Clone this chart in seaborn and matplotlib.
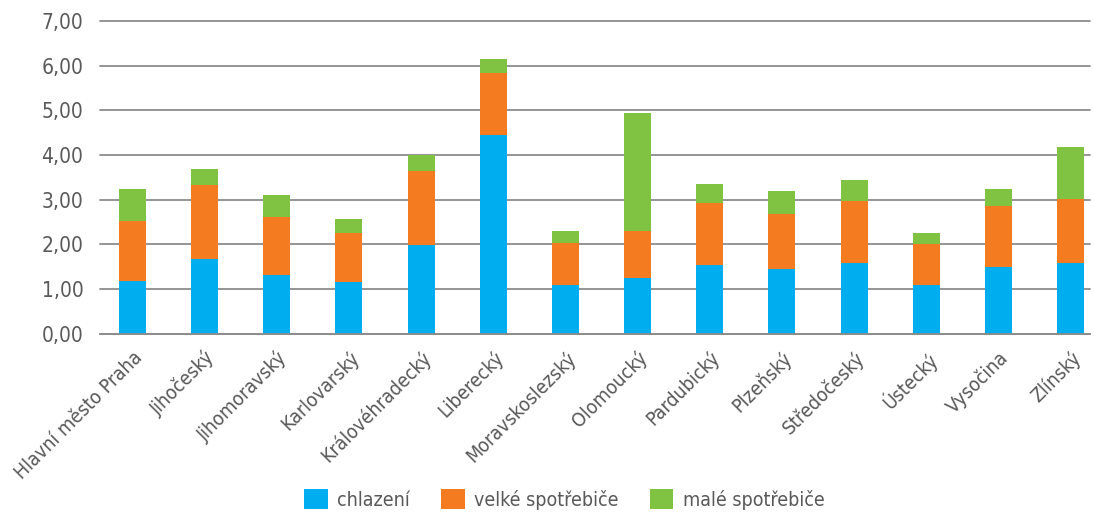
import numpy as np
import matplotlib.pyplot as plt
import seaborn as sns
from matplotlib.patches import Patch
from matplotlib.ticker import FuncFormatter

sns.set_style('white')
plt.rcParams['font.family'] = ['DejaVu Sans']
plt.rcParams['font.stretch'] = 'condensed'

regions = ['Hlavní město Praha', 'Jihočeský', 'Jihomoravský', 'Karlovarský',
           'Královéhradecký', 'Liberecký', 'Moravskoslezský', 'Olomoucký',
           'Pardubický', 'Plzeňský', 'Středočeský', 'Ústecký', 'Vysočina', 'Zlínský']
chlazeni = [1.19, 1.68, 1.32, 1.15, 1.99, 4.45, 1.10, 1.24, 1.53, 1.46, 1.59, 1.09, 1.49, 1.59]
velke = [1.33, 1.66, 1.29, 1.11, 1.66, 1.39, 0.94, 1.05, 1.39, 1.23, 1.39, 0.91, 1.38, 1.43]
male = [0.73, 0.35, 0.50, 0.32, 0.36, 0.31, 0.27, 2.65, 0.44, 0.51, 0.47, 0.26, 0.38, 1.15]

series = ['chlazení', 'velké spotřebiče', 'malé spotřebiče']
colors = ['#00AEEF', '#F47B20', '#80C242']
TXT = '#595959'

c1 = np.array(chlazeni)
c2 = c1 + np.array(velke)
c3 = c2 + np.array(male)

fig = plt.figure(figsize=(10.94, 5.12), dpi=100)
ax = fig.add_axes([0.0914, 0.348, 0.905, 0.611])
ax.set_axisbelow(True)
ax.yaxis.grid(True, color='#8c8c8c', linewidth=1.3)

# stacked: draw cumulative totals from the top down
for tops, col in zip([c3, c2, c1], colors[::-1]):
    sns.barplot(x=regions, y=tops, color=col, saturation=1, width=0.375,
                linewidth=0, ax=ax, zorder=2)

ax.set_ylim(0, 7)
ax.set_xlim(-0.45, 13.27)
ax.set_yticks(range(8))
ax.yaxis.set_major_formatter(FuncFormatter(lambda v, p: f'{v:.2f}'.replace('.', ',')))
for gl in ax.get_ygridlines():
    gl.set_clip_on(False)
for s in ['top', 'right', 'left']:
    ax.spines[s].set_visible(False)
ax.spines['bottom'].set_color('#8c8c8c')
ax.spines['bottom'].set_linewidth(1.3)
ax.tick_params(axis='y', length=0, pad=12, labelsize=15, labelcolor=TXT)
ax.tick_params(axis='x', length=0, pad=10, labelsize=14, labelcolor=TXT)
plt.setp(ax.get_xticklabels(), rotation=45, ha='right', rotation_mode='anchor')
ax.set_xlabel('')
ax.set_ylabel('')

handles = [Patch(facecolor=c, edgecolor='none') for c in colors]
fig.legend(handles, series, loc='lower center', bbox_to_anchor=(0.516, -0.03),
           ncol=3, frameon=False, fontsize=14, labelcolor=TXT,
           handlelength=1.2, handleheight=1.2, handletextpad=0.5, columnspacing=1.6)

fig.savefig('out.png', dpi=100)
